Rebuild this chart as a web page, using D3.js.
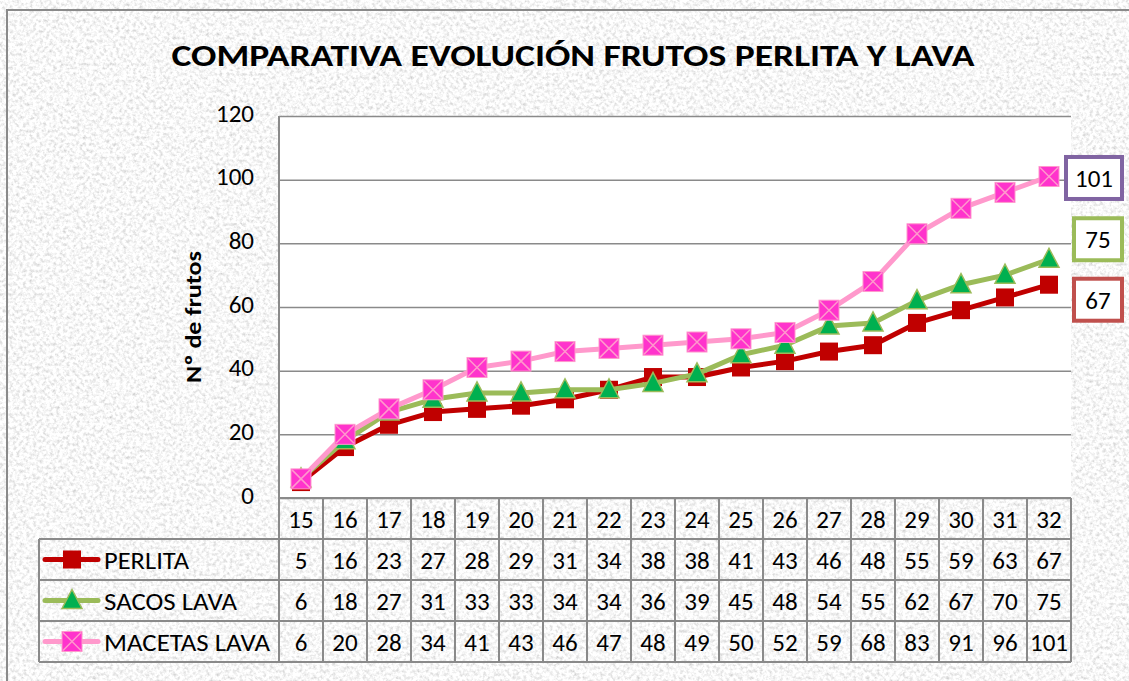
<!DOCTYPE html>
<html>
<head>
<meta charset="utf-8">
<script src="https://cdn.jsdelivr.net/npm/d3@7"></script>
<style>
  html, body { margin: 0; padding: 0; background: #fff; }
  svg { display: block; font-family: Carlito, Calibri, Lato, sans-serif; }
</style>
</head>
<body>
<div id="chart"></div>
<script>
const title = "COMPARATIVA EVOLUCIÓN FRUTOS PERLITA Y LAVA";
const yTitle = "Nº de frutos";
const categories = ["15", "16", "17", "18", "19", "20", "21", "22", "23", "24", "25", "26", "27", "28", "29", "30", "31", "32"];
const perlita = [5, 16, 23, 27, 28, 29, 31, 34, 38, 38, 41, 43, 46, 48, 55, 59, 63, 67];
const sacosLava = [6, 18, 27, 31, 33, 33, 34, 34, 36, 39, 45, 48, 54, 55, 62, 67, 70, 75];
const macetasLava = [6, 20, 28, 34, 41, 43, 46, 47, 48, 49, 50, 52, 59, 68, 83, 91, 96, 101];
const yTicks = [0, 20, 40, 60, 80, 100, 120];

const series = [
  { name: "PERLITA", values: perlita, line: "#C00000", fill: "#C00000", stroke: "#C00000", marker: "square", box: "#C0504D", labelDy: 15 },
  { name: "SACOS LAVA", values: sacosLava, line: "#9BBB59", fill: "#00B050", stroke: "#9BBB59", marker: "triangle", box: "#9BBB59", labelDy: -20 },
  { name: "MACETAS LAVA", values: macetasLava, line: "#FF99CC", fill: "#FF33CC", stroke: "#FF99CC", marker: "cross", box: "#8064A2", labelDy: 1.5 }
];

const W = 1129, H = 681;
const plot = { left: 279, right: 1071, top: 116, bottom: 498 };
const rowH = 41;
const legendLeft = 39;
const fs = 25;

const svg = d3.select("#chart").append("svg")
  .attr("width", W).attr("height", H);

// granite-like background texture
const defs = svg.append("defs");
const filt = defs.append("filter").attr("id", "granite")
  .attr("x", 0).attr("y", 0).attr("width", "100%").attr("height", "100%");
filt.append("feTurbulence").attr("type", "fractalNoise")
  .attr("baseFrequency", 0.3).attr("numOctaves", 3).attr("seed", 7);
filt.append("feColorMatrix").attr("type", "matrix")
  .attr("values", "0.75 0 0 0 0.56  0.75 0 0 0 0.56  0.75 0 0 0 0.56  0 0 0 0 1");

svg.append("rect").attr("width", W).attr("height", H).attr("filter", "url(#granite)");
svg.append("rect").attr("x", 7).attr("y", 10).attr("width", W + 10).attr("height", H + 10)
  .attr("fill", "none").attr("stroke", "#8a8a8a").attr("stroke-width", 2);

// title
svg.append("text")
  .attr("x", 573).attr("y", 66)
  .attr("text-anchor", "middle")
  .attr("font-weight", "bold").attr("font-size", 31)
  .attr("textLength", 803).attr("lengthAdjust", "spacingAndGlyphs")
  .text(title);

// scales
const x = d3.scaleBand().domain(categories).range([plot.left, plot.right]);
const y = d3.scaleLinear().domain([0, 120]).range([plot.bottom, plot.top]);

svg.append("rect")
  .attr("x", plot.left).attr("y", plot.top)
  .attr("width", plot.right - plot.left).attr("height", plot.bottom - plot.top)
  .attr("fill", "#fff");

// y axis + gridlines
const yAxis = svg.append("g")
  .attr("transform", `translate(${plot.left},0)`)
  .call(d3.axisLeft(y).tickValues(yTicks).tickSize(-(plot.right - plot.left)).tickPadding(25));
yAxis.select(".domain").remove();
yAxis.selectAll(".tick line").attr("stroke", "#8a8a8a").attr("stroke-width", 1.5);
yAxis.selectAll(".tick text")
  .attr("font-size", fs).attr("fill", "#000").attr("dy", "0.2em")
  .attr("font-family", "Carlito, Calibri, Lato, sans-serif");

svg.append("line")
  .attr("x1", plot.left).attr("x2", plot.left)
  .attr("y1", plot.top).attr("y2", plot.bottom + rowH)
  .attr("stroke", "#8a8a8a").attr("stroke-width", 2);

svg.append("text")
  .attr("transform", `translate(201,${(plot.top + plot.bottom) / 2 + 10}) rotate(-90)`)
  .attr("text-anchor", "middle")
  .attr("font-weight", "bold").attr("font-size", 23)
  .attr("textLength", 132).attr("lengthAdjust", "spacingAndGlyphs")
  .text(yTitle);

// data table
const table = svg.append("g");
const gridColor = "#8a8a8a";
const tableBottom = plot.bottom + rowH * 4;
table.append("line").attr("x1", plot.left).attr("x2", plot.right)
  .attr("y1", plot.bottom).attr("y2", plot.bottom)
  .attr("stroke", gridColor).attr("stroke-width", 2);
[1, 2, 3, 4].forEach(r => {
  table.append("line").attr("x1", legendLeft).attr("x2", plot.right)
    .attr("y1", plot.bottom + r * rowH).attr("y2", plot.bottom + r * rowH)
    .attr("stroke", gridColor).attr("stroke-width", 2);
});
table.append("line").attr("x1", legendLeft).attr("x2", legendLeft)
  .attr("y1", plot.bottom + rowH).attr("y2", tableBottom)
  .attr("stroke", gridColor).attr("stroke-width", 2);
categories.forEach(c => {
  table.append("line").attr("x1", x(c)).attr("x2", x(c))
    .attr("y1", plot.bottom).attr("y2", tableBottom)
    .attr("stroke", gridColor).attr("stroke-width", 2);
});
table.append("line").attr("x1", plot.right).attr("x2", plot.right)
  .attr("y1", plot.bottom).attr("y2", tableBottom)
  .attr("stroke", gridColor).attr("stroke-width", 2);

// category header row
table.selectAll(".cat").data(categories).join("text")
  .attr("class", "cat")
  .attr("x", d => x(d) + x.bandwidth() / 2)
  .attr("y", plot.bottom + rowH / 2 + 9)
  .attr("text-anchor", "middle").attr("font-size", fs)
  .text(d => d);

function drawMarker(g, s, cx, cy) {
  if (s.marker === "square") {
    g.append("rect").attr("x", cx - 9).attr("y", cy - 9).attr("width", 18).attr("height", 18)
      .attr("fill", s.fill);
  } else if (s.marker === "triangle") {
    g.append("path")
      .attr("d", `M${cx},${cy - 11}L${cx + 10},${cy + 8}L${cx - 10},${cy + 8}Z`)
      .attr("fill", s.fill).attr("stroke", s.stroke).attr("stroke-width", 1.5);
  } else {
    g.append("rect").attr("x", cx - 10).attr("y", cy - 10).attr("width", 20).attr("height", 20)
      .attr("fill", s.fill).attr("stroke", s.stroke).attr("stroke-width", 1);
    g.append("path")
      .attr("d", `M${cx - 9},${cy - 9}L${cx + 9},${cy + 9}M${cx + 9},${cy - 9}L${cx - 9},${cy + 9}`)
      .attr("stroke", s.stroke).attr("stroke-width", 1.5);
  }
}

const legendWidths = [85, 133, 166];
series.forEach((s, i) => {
  const rowY = plot.bottom + rowH * (i + 1);
  const g = table.append("g");
  g.append("line").attr("x1", 45).attr("x2", 98)
    .attr("y1", rowY + rowH / 2).attr("y2", rowY + rowH / 2)
    .attr("stroke", s.line).attr("stroke-width", 5).attr("stroke-linecap", "round");
  drawMarker(g, s, 72, rowY + rowH / 2);
  g.append("text").attr("x", 104).attr("y", rowY + rowH / 2 + 9)
    .attr("font-size", fs)
    .attr("textLength", legendWidths[i])
    .attr("lengthAdjust", "spacingAndGlyphs")
    .text(s.name);
  g.selectAll(".val").data(s.values).join("text")
    .attr("class", "val")
    .attr("x", (d, j) => x(categories[j]) + x.bandwidth() / 2)
    .attr("y", rowY + rowH / 2 + 9)
    .attr("text-anchor", "middle").attr("font-size", fs)
    .text(d => d);
});

// lines and markers
const line = d3.line()
  .x((d, j) => x(categories[j]) + x.bandwidth() / 2)
  .y(d => y(d));

series.forEach(s => {
  svg.append("path").datum(s.values)
    .attr("fill", "none").attr("stroke", s.line).attr("stroke-width", 5)
    .attr("stroke-linejoin", "round")
    .attr("d", line);
  const g = svg.append("g");
  s.values.forEach((v, j) => drawMarker(g, s, x(categories[j]) + x.bandwidth() / 2, y(v)));
});

// end labels
series.forEach(s => {
  const v = s.values[s.values.length - 1];
  const cy = y(v) + s.labelDy;
  const txt = String(v);
  const w = txt.length > 2 ? 56 : 48;
  const g = svg.append("g");
  g.append("rect")
    .attr("x", txt.length > 2 ? 1066 : 1074).attr("y", cy - 21).attr("width", w).attr("height", 42)
    .attr("fill", "#fff").attr("stroke", s.box).attr("stroke-width", 4);
  g.append("text").attr("x", (txt.length > 2 ? 1066 : 1074) + w / 2).attr("y", cy + 9)
    .attr("text-anchor", "middle").attr("font-size", fs).text(txt);
});
</script>
</body>
</html>
